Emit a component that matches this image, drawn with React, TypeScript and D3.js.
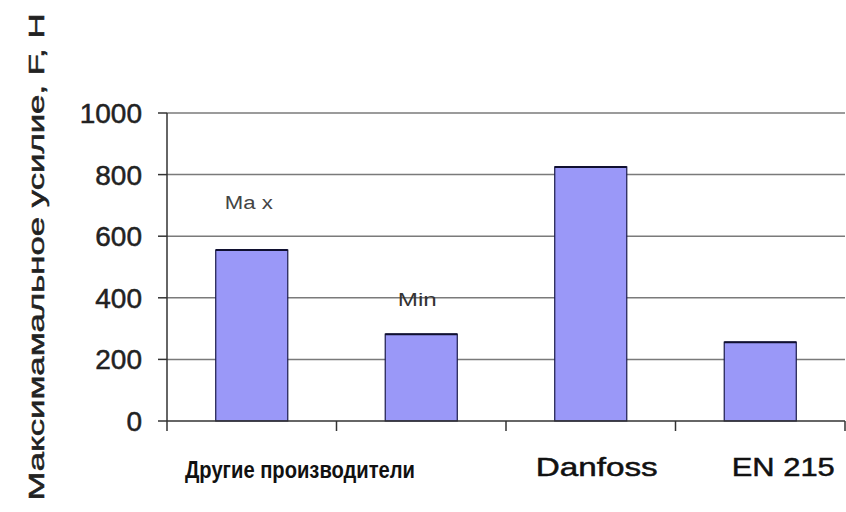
import React from "react";
import * as d3 from "d3";

const categories = ["Max", "Min", "Danfoss", "EN 215"];
const values = [555, 282, 825, 256];
const barNotes = ["Ma x", "Min", "", ""];
const yTicks = [0, 200, 400, 600, 800, 1000];
const groupLabels = ["Другие производители", "Danfoss", "EN 215"];
const yTitle = "Максимамальное усилие, F, Н";

const W = 846;
const H = 512;
const left = 167;
const right = 845;
const top = 113;
const bottom = 421;

export default function App() {
  const x = d3
    .scaleBand<string>()
    .domain(categories)
    .range([left, right])
    .paddingInner(0.575)
    .paddingOuter(0.2875);
  const y = d3.scaleLinear().domain([0, 1000]).range([bottom, top]);
  const step = x.step();
  const boundaries = d3.range(categories.length + 1).map((i) => left + i * step);
  const cx = (c: string) => (x(c) as number) + x.bandwidth() / 2;

  return (
    <svg
      width={W}
      height={H}
      style={{ position: "absolute", left: 0, top: 0, background: "#fff" }}
      fontFamily="Liberation Sans, Arial, sans-serif"
    >
      {/* gridlines */}
      {yTicks.filter((t) => t > 0).map((t) => (
        <line key={t} x1={left} x2={right} y1={y(t)} y2={y(t)} stroke="#7a7a7a" strokeWidth={1.5} />
      ))}
      {/* bars */}
      {categories.map((c, i) => (
        <g key={c}>
          <rect
            x={x(c)}
            y={y(values[i])}
            width={x.bandwidth()}
            height={y(0) - y(values[i])}
            fill="#9a98f8"
            stroke="#1a1a4a"
            strokeWidth={1.2}
          />
          <line x1={x(c)} x2={(x(c) as number) + x.bandwidth()} y1={y(values[i])} y2={y(values[i])} stroke="#101030" strokeWidth={2} />
        </g>
      ))}
      {/* bar notes */}
      <text x={cx("Max") - 3} y={y(700) + 4} textAnchor="middle" fontSize={18} fill="#444" textLength={48} lengthAdjust="spacingAndGlyphs">
        {barNotes[0]}
      </text>
      <text x={cx("Min") - 4} y={y(400) + 8} textAnchor="middle" fontSize={18} fill="#333" textLength={39} lengthAdjust="spacingAndGlyphs">
        {barNotes[1]}
      </text>
      {/* y axis */}
      <line x1={left} x2={left} y1={top} y2={bottom} stroke="#333" strokeWidth={1.5} />
      {yTicks.map((t) => (
        <g key={t}>
          <line x1={left - 9} x2={left} y1={y(t)} y2={y(t)} stroke="#333" strokeWidth={1.5} />
          <text x={142} y={y(t)} dy="0.36em" textAnchor="end" fontSize={28} fill="#222" stroke="#222" strokeWidth={0.5}>
            {t}
          </text>
        </g>
      ))}
      {/* x axis */}
      <line x1={left} x2={right} y1={bottom} y2={bottom} stroke="#333" strokeWidth={1.5} />
      {boundaries.map((b, i) => (
        <line key={i} x1={b} x2={b} y1={bottom} y2={bottom + 10} stroke="#333" strokeWidth={1.5} />
      ))}
      {/* category labels */}
      <text x={300} y={478} textAnchor="middle" fontSize={24} fontWeight="bold" fill="#111" textLength={230} lengthAdjust="spacingAndGlyphs">
        {groupLabels[0]}
      </text>
      <text x={cx(categories[2]) + 6} y={476} textAnchor="middle" fontSize={26} fill="#111" stroke="#111" strokeWidth={0.5} textLength={122} lengthAdjust="spacingAndGlyphs">
        {groupLabels[1]}
      </text>
      <text x={cx(categories[3]) + 23} y={476} textAnchor="middle" fontSize={26} fill="#111" stroke="#111" strokeWidth={0.5} textLength={103} lengthAdjust="spacingAndGlyphs">
        {groupLabels[2]}
      </text>
      {/* y title */}
      <text
        transform={`translate(44, 257) rotate(-90)`}
        textAnchor="middle"
        fontSize={22}
        fill="#222"
        stroke="#222"
        strokeWidth={0.5}
        textLength={487}
        lengthAdjust="spacingAndGlyphs"
      >
        {yTitle}
      </text>
    </svg>
  );
}
